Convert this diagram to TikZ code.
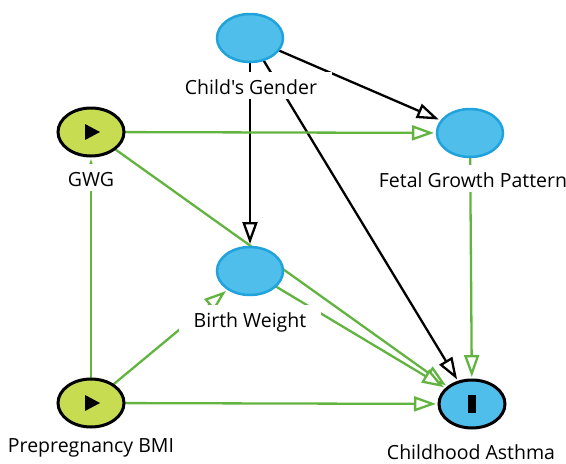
\documentclass[tikz,border=0pt]{standalone}
\usepackage{fontspec}
\newfontfamily\labelfont{Open Sans}
\usetikzlibrary{shapes.geometric,arrows.meta}

\definecolor{nodeblue}{HTML}{4FBEEB}
\definecolor{nodeblueline}{HTML}{20A2DC}
\definecolor{expfill}{HTML}{C8DC52}
\definecolor{pathgreen}{HTML}{62B440}

\pgfdeclarelayer{edges}
\pgfdeclarelayer{labels}
\pgfsetlayers{edges,labels,main}

\tikzset{
  var/.style={ellipse, inner sep=0pt, outer sep=0pt,
    minimum width=66pt, minimum height=48pt},
  plainvar/.style={var, fill=nodeblue, draw=nodeblueline, line width=2.5pt},
  exposure/.style={var, fill=expfill, draw=black, line width=3pt,
    path picture={\fill[black]
      ([xshift=-6pt,yshift=8pt]path picture bounding box.center)
      -- ++(15pt,-8pt) -- ++(-15pt,-8pt) -- cycle;}},
  outcome/.style={var, fill=nodeblue, draw=black, line width=3pt,
    path picture={\fill[black]
      ([xshift=-4pt,yshift=-9pt]path picture bounding box.center)
      rectangle ++(8pt,18pt);}},
  varlabel/.style={fill=white, inner xsep=15pt, inner ysep=2.5pt,
    text height=20pt, text depth=2pt, anchor=base,
    font=\labelfont\fontsize{19.5pt}{23pt}\selectfont},
  tip/.style={-{Triangle[length=22pt,width=15pt,fill=white]},
    shorten >=3pt, line width=2.3pt},
  causal/.style={tip, draw=pathgreen},
  biasing/.style={tip, draw=black},
}

\begin{document}
\begin{tikzpicture}[x=1pt,y=1pt]
  \useasboundingbox (0,0) rectangle (566,-464);

  % variables
  \node[plainvar] (gender) at (250,-38) {};
  \node[exposure] (gwg)    at (91,-132) {};
  \node[plainvar] (fetal)  at (470,-133) {};
  \node[plainvar] (bw)     at (250,-271) {};
  \node[exposure] (bmi)    at (91,-403) {};
  \node[outcome]  (asthma) at (472,-404) {};

  % labels with white boxes over the edges
  \begin{pgfonlayer}{labels}
    \node[varlabel] (gender-l) at (251,-94)  {Child's Gender};
    \node[varlabel] (gwg-l)    at (91,-186)  {GWG};
    \node[varlabel] (fetal-l)  at (473,-187) {Fetal Growth Pattern};
    \node[varlabel] (bw-l)     at (250,-327) {Birth Weight};
    \node[varlabel] (bmi-l)    at (91,-452)  {Prepregnancy BMI};
    \node[varlabel] (asthma-l) at (471,-459) {Childhood Asthma};
  \end{pgfonlayer}

  % edges
  \begin{pgfonlayer}{edges}
    \draw[biasing] (gender) -- (fetal);
    \draw[biasing] (gender) -- (bw);
    \draw[biasing] (gender) -- (asthma);
    \draw[causal] (gwg) -- (fetal);
    \draw[causal] (gwg) -- (asthma);
    \draw[causal] (bw) -- (asthma);
    \draw[causal] (fetal) -- (asthma);
    \draw[causal] (bmi) -- (gwg);
    \draw[causal] (bmi) -- (bw);
    \draw[causal] (bmi) -- (asthma);
  \end{pgfonlayer}
\end{tikzpicture}
\end{document}
